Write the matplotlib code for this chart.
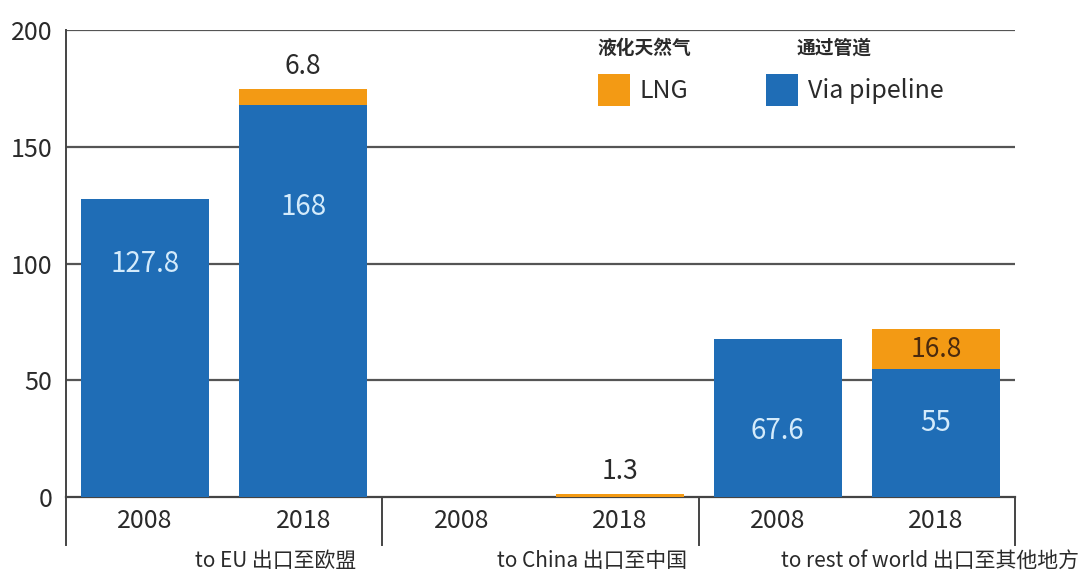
import matplotlib
matplotlib.use("Agg")
import matplotlib.pyplot as plt
from matplotlib.patches import Rectangle

plt.rcParams['font.family'] = ['Noto Sans CJK SC', 'DejaVu Sans']

# Gas exports by destination, 2008 vs 2018
groups = ["to EU 出口至欧盟", "to China 出口至中国", "to rest of world 出口至其他地方"]
years = ["2008", "2018"]
pipeline = [127.8, 168, 0, 0, 67.6, 55]
lng = [0, 6.8, 0, 1.3, 0, 16.8]
yticks = [0, 50, 100, 150, 200]

BLUE = "#1f6db6"
ORANGE = "#f39a14"
DARK = "#2a2a2a"

fig = plt.figure(figsize=(10.88, 5.70), dpi=100)
ax = fig.add_axes([0.0607, 0.128, 0.8722, 0.819])

x = list(range(len(pipeline)))
width = 0.81
ax.bar(x, pipeline, width=width, color=BLUE, zorder=3)
ax.bar(x, lng, width=width, bottom=pipeline, color=ORANGE, zorder=3)

ax.set_xlim(-0.5, len(x) - 0.5)
ax.set_ylim(0, 200)
ax.set_yticks(yticks)
ax.set_yticklabels([str(v) for v in yticks], fontsize=18, color=DARK,
                   fontweight='medium')
ax.tick_params(axis='y', length=0, pad=10)
ax.set_xticks(x)
ax.set_xticklabels(years * len(groups), fontsize=18, color=DARK,
                   fontweight='medium')
ax.tick_params(axis='x', length=0, pad=8)

for v in yticks[1:]:
    ax.axhline(v, color="#555555", lw=1.6, zorder=1)

for side in ("top", "right"):
    ax.spines[side].set_visible(False)
ax.spines["left"].set_color("#444444")
ax.spines["left"].set_linewidth(1.4)
ax.spines["bottom"].set_color("#444444")
ax.spines["bottom"].set_linewidth(1.6)

# group separators below the axis
trans = ax.get_xaxis_transform()
for sx in [-0.5, 1.5, 3.5, 5.5]:
    ax.plot([sx, sx], [0, -0.103], transform=trans, color="#444444",
            lw=1.4, clip_on=False)

# group captions
group_left = [0.316, 2.228, 4.019]
for gx, g in zip(group_left, groups):
    ax.text(gx, -0.136, g, transform=trans, ha='left', va='center',
            fontsize=15, color=DARK, fontweight='medium')

# value labels for pipeline segments (inside the bars)
pipe_label_frac = [0.78, 0.74, None, None, 0.42, 0.58]
for xi, v, f in zip(x, pipeline, pipe_label_frac):
    if v > 0 and f is not None:
        ax.text(xi, v * f, f"{v:g}", ha='center', va='center',
                fontsize=20, color="#d4ebfb", zorder=4, fontweight='medium')

# LNG labels
for xi, p, v in zip(x, pipeline, lng):
    if v <= 0:
        continue
    if v > 10:
        ax.text(xi, p + v / 2, f"{v:g}", ha='center', va='center',
                fontsize=19, color="#4a2a0e", zorder=4, fontweight='medium')
    else:
        ax.text(xi, p + v + 4, f"{v:g}", ha='center', va='bottom',
                fontsize=19, color=DARK, zorder=4, fontweight='medium')

# legend
legend_items = [
    (0.5606, ORANGE, "LNG", "液化天然气", 0.5595),
    (0.7376, BLUE, "Via pipeline", "通过管道", 0.7703),
]
for lx, col, en, zh, zx in legend_items:
    ax.add_patch(Rectangle((lx, 0.837), 0.0337, 0.0685, transform=ax.transAxes,
                           facecolor=col, edgecolor='none', clip_on=False, zorder=5))
    ax.text(lx + 0.044, 0.869, en, transform=ax.transAxes, ha='left',
            va='center', fontsize=18, color=DARK, fontweight='medium')
    ax.text(zx, 0.961, zh, transform=ax.transAxes,
            ha='left', va='center', fontsize=13.5, color=DARK, fontweight='bold')

fig.savefig("out.png", dpi=100)
